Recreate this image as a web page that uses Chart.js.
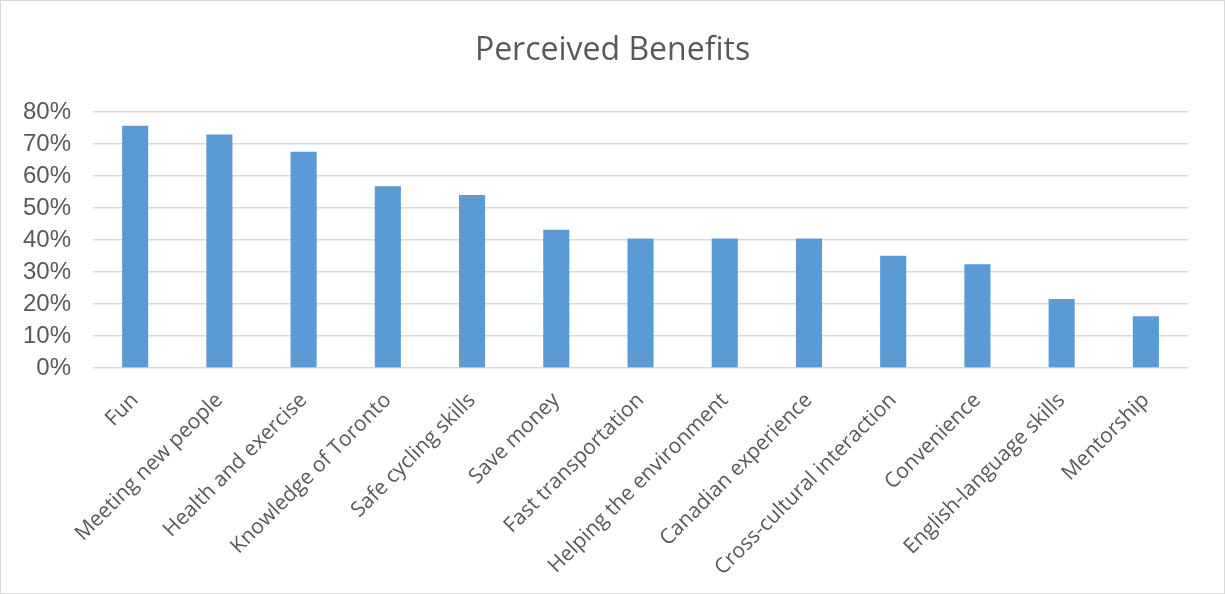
<!DOCTYPE html>
<html>
<head>
<meta charset="utf-8">
<script src="https://cdn.jsdelivr.net/npm/chart.js@4"></script>
<style>
html,body{margin:0;padding:0;background:#fff;}
#wrap{position:absolute;left:0;top:0;width:1223px;height:592px;border:1px solid #d9d9d9;background:#fff;}
canvas{display:block;}
</style>
</head>
<body>
<div id="wrap"><canvas id="c" width="1223" height="592"></canvas></div>
<script>
const categories = ["Fun","Meeting new people","Health and exercise","Knowledge of Toronto","Safe cycling skills","Save money","Fast transportation","Helping the environment","Canadian experience","Cross-cultural interaction","Convenience","English-language skills","Mentorship"];
const values = [75.7, 73.0, 67.6, 56.8, 54.1, 43.2, 40.5, 40.5, 40.5, 35.1, 32.4, 21.6, 16.2];
const yTicks = [0,10,20,30,40,50,60,70,80];
const chartTitle = "Perceived Benefits";

const centeredTitle = {
  id: 'centeredTitle',
  afterDraw(chart) {
    const ctx = chart.ctx;
    ctx.save();
    ctx.font = '400 32px "Open Sans", sans-serif';
    ctx.fillStyle = '#595959';
    ctx.textAlign = 'center';
    ctx.textBaseline = 'middle';
    ctx.fillText(chartTitle, chart.width / 2, 50);
    ctx.restore();
  }
};

new Chart(document.getElementById('c'), {
  type: 'bar',
  data: {
    labels: categories,
    datasets: [{ data: values, backgroundColor: '#5b9bd5', borderWidth: 0, categoryPercentage: 1, barPercentage: 0.31 }]
  },
  plugins: [centeredTitle],
  options: {
    responsive: false,
    animation: false,
    layout: { padding: { left: 0, right: 36, top: 111, bottom: 0 } },
    plugins: {
      legend: { display: false },
      tooltip: { enabled: false },
      title: { display: false }
    },
    scales: {
      x: {
        grid: { display: false, drawTicks: false },
        border: { display: false },
        afterFit: (axis) => { axis.height = 225; },
        ticks: {
          color: '#595959', maxRotation: 45, minRotation: 45, autoSkip: false, padding: 20,
          font: { family: '"Open Sans", sans-serif', size: 21 }
        }
      },
      y: {
        min: 0, max: 80,
        afterBuildTicks: (axis) => { axis.ticks = yTicks.map(v => ({ value: v })); },
        grid: { color: '#d9d9d9', lineWidth: 1.5, drawTicks: false },
        border: { display: false },
        ticks: {
          color: '#595959', padding: 22, autoSkip: false,
          font: { family: '"Liberation Sans", Arial, sans-serif', size: 24 },
          callback: (v) => v + '%'
        }
      }
    }
  }
});
</script>
</body>
</html>
